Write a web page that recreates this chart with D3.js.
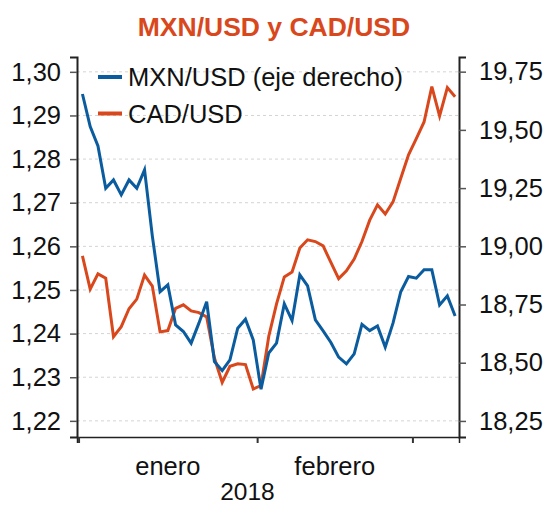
<!DOCTYPE html>
<html>
<head>
<meta charset="utf-8">
<script src="https://cdn.jsdelivr.net/npm/d3@7"></script>
<style>
body { margin: 0; background: #fff; }
svg text { font-family: "Liberation Sans", Arial, sans-serif; }
</style>
</head>
<body>
<div id="chart"></div>
<script>
// daily values, business days 2 jan - 8 mar 2018
var mxn = [19.654, 19.514, 19.431, 19.249, 19.285, 19.221, 19.285, 19.249, 19.328, 19.045,
           18.805, 18.834, 18.662, 18.634, 18.584, 18.670, 18.762, 18.505, 18.466, 18.512,
           18.648, 18.687, 18.598, 18.386, 18.542, 18.584, 18.753, 18.681, 18.877, 18.830,
           18.684, 18.637, 18.587, 18.524, 18.495, 18.538, 18.665, 18.638, 18.658, 18.567,
           18.670, 18.805, 18.870, 18.863, 18.899, 18.899, 18.748, 18.787, 18.701];
var cad = [1.2578, 1.2502, 1.2537, 1.2527, 1.2393, 1.2416, 1.2457, 1.2479, 1.2534, 1.2509,
           1.2404, 1.2407, 1.2458, 1.2466, 1.2452, 1.2448, 1.2438, 1.2344, 1.2288, 1.2325,
           1.2331, 1.2329, 1.2273, 1.2281, 1.2394, 1.2468, 1.2530, 1.2541, 1.2596, 1.2615,
           1.2611, 1.2601, 1.2563, 1.2526, 1.2544, 1.2571, 1.2611, 1.2660, 1.2695, 1.2674,
           1.2702, 1.2756, 1.2810, 1.2847, 1.2885, 1.2966, 1.2899, 1.2964, 1.2943];
var months = ["enero", "febrero"];
var monthBounds = [-0.5, 22.5, 42.5];
var leftTicks = [1.22, 1.23, 1.24, 1.25, 1.26, 1.27, 1.28, 1.29, 1.30];
var rightTicks = [18.25, 18.50, 18.75, 19.00, 19.25, 19.50, 19.75];
var seriesNames = ["MXN/USD (eje derecho)", "CAD/USD"];
var colors = ["#0a5c9e", "#d9481c"];

var width = 543, height = 505;
var plotL = 77, plotR = 459, plotT = 57, plotB = 437;
var fs = 25.5;

var svg = d3.select("#chart").append("svg")
    .attr("width", width)
    .attr("height", height);

var xScale = d3.scaleLinear().domain([-0.7, 48.5]).range([plotL, plotR]);
var yLeft = d3.scaleLinear().domain([1.2163, 1.3034]).range([plotB, plotT]);
var yRight = d3.scaleLinear().domain([18.181, 19.813]).range([plotB, plotT]);

var fmt = function(dec){
    return function(v){ return d3.format("." + dec + "f")(v).replace(".", ","); };
};

// grid
svg.append("g").selectAll("line")
    .data(leftTicks)
    .enter().append("line")
    .attr("x1", plotL).attr("x2", plotR)
    .attr("y1", function(d){ return yLeft(d); })
    .attr("y2", function(d){ return yLeft(d); })
    .attr("stroke", "#d4d4d4")
    .attr("stroke-width", 1)
    .attr("stroke-dasharray", "3,3");

// axes
var axL = svg.append("g")
    .attr("transform", "translate(" + plotL + ",0)")
    .call(d3.axisLeft(yLeft).tickValues(leftTicks).tickFormat(fmt(2)).tickSizeOuter(0).tickSize(7).tickPadding(9));
var axR = svg.append("g")
    .attr("transform", "translate(" + plotR + ",0)")
    .call(d3.axisRight(yRight).tickValues(rightTicks).tickFormat(fmt(2)).tickSizeOuter(0).tickSize(7).tickPadding(13));
var axB = svg.append("g")
    .attr("transform", "translate(0," + plotB + ")")
    .call(d3.axisBottom(xScale).tickValues(monthBounds).tickFormat("").tickSizeOuter(0).tickSize(6));

[axL, axR].forEach(function(ax){
    ax.select(".domain").attr("stroke", "#222").attr("stroke-width", 2);
    ax.selectAll(".tick line").attr("stroke", "#555").attr("stroke-width", 1.5);
    ax.selectAll(".tick text").attr("font-size", fs).attr("fill", "#111")
        .attr("font-family", "Liberation Sans, Arial, sans-serif");
});
axB.select(".domain").attr("stroke", "#222").attr("stroke-width", 1.5);
axB.selectAll(".tick line").attr("stroke", "#333").attr("stroke-width", 2);

// month labels
svg.append("g").selectAll("text")
    .data(months)
    .enter().append("text")
    .attr("x", function(d, i){ return xScale((monthBounds[i] + monthBounds[i + 1]) / 2); })
    .attr("y", 475)
    .attr("text-anchor", "middle")
    .attr("font-size", fs)
    .attr("fill", "#111")
    .text(function(d){ return d; });

svg.append("text")
    .attr("x", xScale((monthBounds[0] + monthBounds[2]) / 2) + 2)
    .attr("y", 500)
    .attr("text-anchor", "middle")
    .attr("font-size", 24.5)
    .attr("fill", "#111")
    .text("2018");

// lines
var lineL = d3.line()
    .x(function(d, i){ return xScale(i); })
    .y(function(d){ return yLeft(d); });
var lineR = d3.line()
    .x(function(d, i){ return xScale(i); })
    .y(function(d){ return yRight(d); });

svg.append("path")
    .attr("d", lineL(cad))
    .attr("fill", "none")
    .attr("stroke", colors[1])
    .attr("stroke-width", 3)
    .attr("stroke-linejoin", "miter");
svg.append("path")
    .attr("d", lineR(mxn))
    .attr("fill", "none")
    .attr("stroke", colors[0])
    .attr("stroke-width", 3)
    .attr("stroke-linejoin", "miter");

// legend
var leg = svg.append("g").selectAll("g")
    .data(seriesNames)
    .enter().append("g")
    .attr("transform", function(d, i){ return "translate(98," + (77 + i * 36.5) + ")"; });
leg.append("line")
    .attr("x1", 0).attr("x2", 24)
    .attr("stroke", function(d, i){ return colors[i]; })
    .attr("stroke-width", 4);
leg.append("text")
    .attr("x", 30)
    .attr("y", 9)
    .attr("font-size", fs)
    .attr("fill", "#111")
    .text(function(d){ return d; });

// title
svg.append("text")
    .attr("x", 274)
    .attr("y", 36)
    .attr("text-anchor", "middle")
    .attr("font-size", 26.5)
    .attr("font-weight", "bold")
    .attr("fill", colors[1])
    .text("MXN/USD y CAD/USD");
</script>
</body>
</html>
